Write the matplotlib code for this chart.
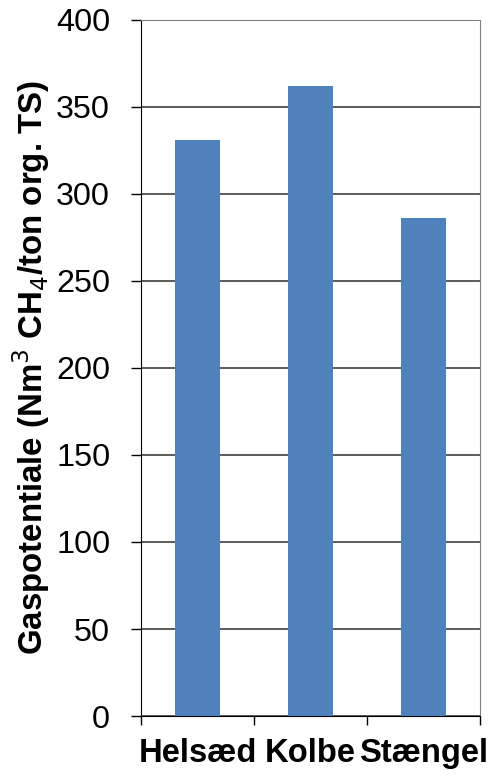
import matplotlib.pyplot as plt

categories = ['Helsæd', 'Kolbe', 'Stængel']
values = [331, 362, 286]

plt.rcParams['font.family'] = ['Liberation Sans', 'DejaVu Sans']

fig = plt.figure(figsize=(4.89, 7.77), dpi=100)
ax = fig.add_axes([0.2883, 0.0785, 0.6933, 0.8958])

x = range(len(categories))
ax.bar(x, values, width=0.39, color='#4F81BD', zorder=3)

ax.set_xlim(-0.5, 2.5)
ax.set_ylim(0, 400)
ax.set_yticks(range(0, 401, 50))
ax.yaxis.grid(True, color='#404040', linewidth=1.2, zorder=0)
ax.tick_params(axis='y', labelsize=23.3, length=7.2, width=1, direction='out', pad=15)

# category boundaries carry the tick marks, labels sit at the centres
ax.set_xticks([-0.5, 0.5, 1.5, 2.5])
ax.set_xticklabels([])
ax.set_xticks(list(x), minor=True)
ax.set_xticklabels(categories, minor=True, fontsize=23.6, fontweight='bold')
ax.tick_params(axis='x', which='major', length=6.5, width=1, direction='out')
ax.tick_params(axis='x', which='minor', length=0, pad=16)

ax.spines['left'].set_color('black')
ax.spines['bottom'].set_color('black')
ax.spines['top'].set_color('#808080')
ax.spines['right'].set_color('#808080')

ax.set_ylabel('Gaspotentiale (Nm$^3$ CH$_4$/ton org. TS)', fontsize=23.8,
              fontweight='bold')
ax.yaxis.set_label_coords(-0.262, 0.5)

fig.savefig('out.png', dpi=100)
